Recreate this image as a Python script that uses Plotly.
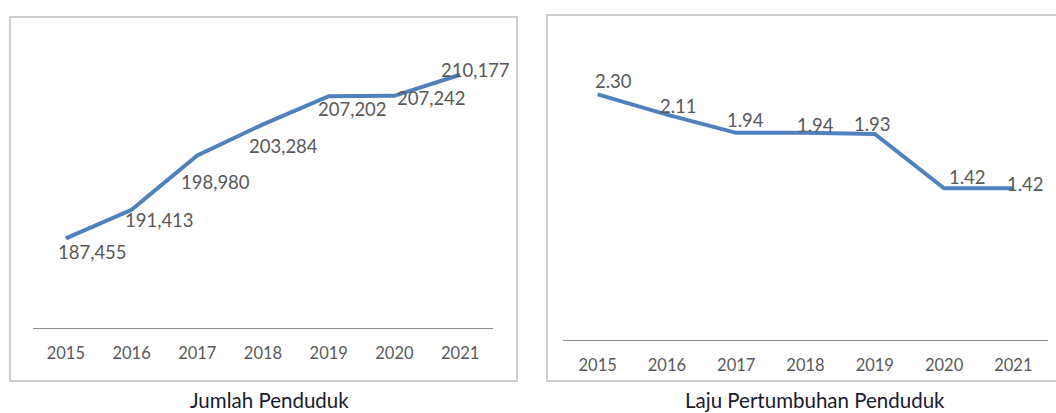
import plotly.graph_objects as go

years = [2015, 2016, 2017, 2018, 2019, 2020, 2021]
jumlah_penduduk = [187455, 191413, 198980, 203284, 207202, 207242, 210177]
laju_pertumbuhan = [2.30, 2.11, 1.94, 1.94, 1.93, 1.42, 1.42]
title_left = "Jumlah Penduduk"
title_right = "Laju Pertumbuhan Penduduk"

# label offsets in pixels (dx, dy) - style only
left_offsets = [(27, -14), (28, -10), (18, -27), (20, -22), (24, -13), (37, -2), (15, 5)]
right_offsets = [(16, 13), (12, 9), (9, 13), (10, 8), (-2, 10), (23, 11), (12, 4)]

W, H = 1056, 413
FONT = "Lato"
LINE = "#4F81BD"
TXT = "#595959"

def px(x):
    return x / W

def py(y):
    return (H - y) / H

fig = go.Figure()
fig.add_trace(go.Scatter(x=years, y=jumlah_penduduk, mode="lines",
                         line=dict(color=LINE, width=4), xaxis="x", yaxis="y",
                         hoverinfo="skip", showlegend=False))
fig.add_trace(go.Scatter(x=years, y=laju_pertumbuhan, mode="lines",
                         line=dict(color=LINE, width=4), xaxis="x2", yaxis="y2",
                         hoverinfo="skip", showlegend=False))

annotations = []
for yr, v, (dx, dy) in zip(years, jumlah_penduduk, left_offsets):
    annotations.append(dict(x=yr, y=v, xref="x", yref="y", text=f"{v:,}",
                            showarrow=False, xshift=dx, yshift=dy,
                            font=dict(family=FONT, size=18.5, color=TXT)))
for yr, v, (dx, dy) in zip(years, laju_pertumbuhan, right_offsets):
    annotations.append(dict(x=yr, y=v, xref="x2", yref="y2", text=f"{v:.2f}",
                            showarrow=False, xshift=dx, yshift=dy,
                            font=dict(family=FONT, size=18.5, color=TXT)))
annotations.append(dict(x=px(269), y=py(400), xref="paper", yref="paper", text=title_left,
                        showarrow=False, xanchor="center", yanchor="middle",
                        font=dict(family=FONT, size=20.5, color="#1a1a2e")))
annotations.append(dict(x=px(815), y=py(400), xref="paper", yref="paper", text=title_right,
                        showarrow=False, xanchor="center", yanchor="middle",
                        font=dict(family=FONT, size=20.5, color="#1a1a2e")))

shapes = [
    dict(type="rect", xref="paper", yref="paper", x0=px(10), x1=px(517), y0=py(381), y1=py(17),
         line=dict(color="#BFBFBF", width=1.5)),
    dict(type="rect", xref="paper", yref="paper", x0=px(547), x1=px(1060), y0=py(381), y1=py(15),
         line=dict(color="#BFBFBF", width=1.5)),
]

axis_common = dict(type="linear", range=[years[0] - 0.5, years[-1] + 0.5],
                   tickmode="array", tickvals=years, ticktext=[str(y) for y in years],
                   showgrid=False, zeroline=False, showline=True,
                   linecolor="#8C8C8C", linewidth=1.2, ticks="outside", ticklen=10,
                   tickcolor="rgba(0,0,0,0)",
                   tickfont=dict(family=FONT, size=16.5, color=TXT), fixedrange=True)
yaxis_common = dict(showgrid=False, zeroline=False, showline=False, showticklabels=False,
                    ticks="", fixedrange=True)

fig.update_layout(
    width=W, height=H, margin=dict(l=0, r=0, t=0, b=0, pad=0),
    paper_bgcolor="white", plot_bgcolor="rgba(0,0,0,0)",
    xaxis=dict(domain=[px(33), px(493)], anchor="y", **axis_common),
    yaxis=dict(domain=[py(328), py(40)], range=[175000, 215000], anchor="x", **yaxis_common),
    xaxis2=dict(domain=[px(563), px(1048)], anchor="y2", **axis_common),
    yaxis2=dict(domain=[py(340), py(73)], range=[0, 2.5], anchor="x2", **yaxis_common),
    annotations=annotations, shapes=shapes, showlegend=False,
)

fig.write_html("out.html", config={"displayModeBar": False},
               post_script="document.body.style.margin='0';document.body.style.overflow='hidden';")
